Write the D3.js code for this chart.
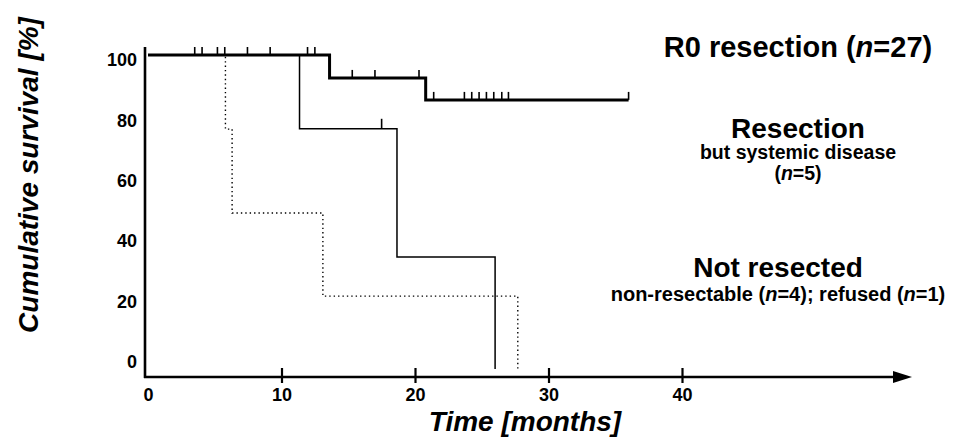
<!DOCTYPE html>
<html>
<head>
<meta charset="utf-8">
<script src="https://cdn.jsdelivr.net/npm/d3@7"></script>
<style>
  body { margin: 0; background: #fff; }
  svg { display: block; font-family: "Liberation Sans", Arial, sans-serif; }
</style>
</head>
<body>
<svg id="chart-svg" width="967" height="439"></svg>
<script>
// survival curves (months, % surviving)
const r0Time = [0, 13.6, 20.8, 36.0];
const r0Surv = [100, 92.7, 85.7, 85.7];
const r0Censor = [3.5, 4.05, 5.2, 5.75, 7.45, 9.15, 11.95, 12.5, 15.3, 17.0, 20.3,
                  21.4, 23.7, 24.25, 24.8, 25.35, 25.9, 26.5, 27.0, 36.0];

const resTime = [0, 11.35, 18.65, 26.0];
const resSurv = [100, 76.5, 35.7, 0];
const resCensor = [17.5];

const notTime = [0, 5.8, 6.3, 13.1, 27.7];
const notSurv = [100, 76.4, 49.7, 23.2, 0];

const xTicks = [0, 10, 20, 30, 40];
const yTicks = [0, 20, 40, 60, 80, 100];

const svg = d3.select("#chart-svg");

const x = d3.scaleLinear().domain([0, 40]).range([148, 682]);
const y = d3.scaleLinear().domain([0, 100]).range([369, 55]);
// labels on the y axis sit a little off the curve levels in the original
const yLab = d3.scaleLinear().domain([0, 100]).range([362, 60]);

const axisY = 377;

// y axis
svg.append("line")
  .attr("x1", 145).attr("x2", 145)
  .attr("y1", 47).attr("y2", axisY + 1)
  .attr("stroke", "#000").attr("stroke-width", 2.6);

svg.append("g")
  .attr("transform", "translate(145,0)")
  .call(d3.axisLeft(yLab).tickValues(yTicks).tickSize(0).tickPadding(8))
  .call(g => g.select(".domain").remove())
  .call(g => g.selectAll("text")
    .attr("font-family", "Liberation Sans, Arial, sans-serif")
    .attr("font-size", 18).attr("font-weight", "bold").attr("fill", "#000"));

// x axis with arrow
svg.append("line")
  .attr("x1", 144).attr("x2", 896)
  .attr("y1", axisY).attr("y2", axisY)
  .attr("stroke", "#000").attr("stroke-width", 2.6);
svg.append("path")
  .attr("d", `M893,${axisY - 6}L912,${axisY}L893,${axisY + 6}Z`)
  .attr("fill", "#000");

const xAxis = svg.append("g")
  .attr("transform", `translate(0,${axisY})`)
  .call(d3.axisBottom(x).tickValues(xTicks).tickSize(0).tickPadding(11))
  .call(g => g.select(".domain").remove());
xAxis.selectAll(".tick").filter(d => d !== 0).append("line")
  .attr("y1", -9).attr("y2", 6)
  .attr("stroke", "#000").attr("stroke-width", 2.2);
xAxis.selectAll("text")
  .attr("font-family", "Liberation Sans, Arial, sans-serif")
  .attr("font-size", 18).attr("font-weight", "bold").attr("fill", "#000");

// curves
const step = d3.line()
  .x(d => x(d[0]))
  .y(d => y(d[1]))
  .curve(d3.curveStepAfter);

const levelAt = (times, surv, t) => {
  let v = surv[0];
  times.forEach((tt, i) => { if (tt <= t) v = surv[i]; });
  return v;
};

svg.append("path")
  .attr("d", step(notTime.map((t, i) => [t, notSurv[i]])))
  .attr("fill", "none").attr("stroke", "#000")
  .attr("stroke-width", 1.4).attr("stroke-dasharray", "1.4,3");

svg.append("path")
  .attr("d", step(resTime.map((t, i) => [t, resSurv[i]])))
  .attr("fill", "none").attr("stroke", "#000").attr("stroke-width", 1.5);

svg.append("path")
  .attr("d", step(r0Time.map((t, i) => [t, r0Surv[i]])))
  .attr("fill", "none").attr("stroke", "#000").attr("stroke-width", 3);

// censor marks
svg.append("g").selectAll("line")
  .data(r0Censor)
  .join("line")
  .attr("x1", d => x(d)).attr("x2", d => x(d))
  .attr("y1", d => y(levelAt(r0Time, r0Surv, d)))
  .attr("y2", d => y(levelAt(r0Time, r0Surv, d)) - 8)
  .attr("stroke", "#000").attr("stroke-width", 1.6);

svg.append("g").selectAll("line")
  .data(resCensor)
  .join("line")
  .attr("x1", d => x(d)).attr("x2", d => x(d))
  .attr("y1", d => y(levelAt(resTime, resSurv, d)))
  .attr("y2", d => y(levelAt(resTime, resSurv, d)) - 10)
  .attr("stroke", "#000").attr("stroke-width", 1.6);

// axis titles
svg.append("text")
  .attr("transform", "translate(38,175) rotate(-90)")
  .attr("text-anchor", "middle")
  .attr("font-size", 28).attr("font-weight", "bold").attr("font-style", "italic")
  .text("Cumulative survival [%]");

svg.append("text")
  .attr("x", 525).attr("y", 431)
  .attr("text-anchor", "middle")
  .attr("font-size", 28).attr("font-weight", "bold").attr("font-style", "italic")
  .text("Time [months]");

// group labels
const label = (xp, yp, size, parts) => {
  const t = svg.append("text")
    .attr("x", xp).attr("y", yp)
    .attr("text-anchor", "middle")
    .attr("font-size", size).attr("font-weight", "bold");
  parts.forEach(p => {
    t.append("tspan").attr("font-style", p[1] ? "italic" : "normal").text(p[0]);
  });
};

label(798, 57, 29, [["R0 resection (", 0], ["n", 1], ["=27)", 0]]);
label(798, 138, 28, [["Resection", 0]]);
label(798, 159, 19.5, [["but systemic disease", 0]]);
label(798, 180, 19.5, [["(", 0], ["n", 1], ["=5)", 0]]);
label(778, 277, 28, [["Not resected", 0]]);
label(778, 301, 20, [["non-resectable (", 0], ["n", 1], ["=4); refused (", 0], ["n", 1], ["=1)", 0]]);
</script>
</body>
</html>
